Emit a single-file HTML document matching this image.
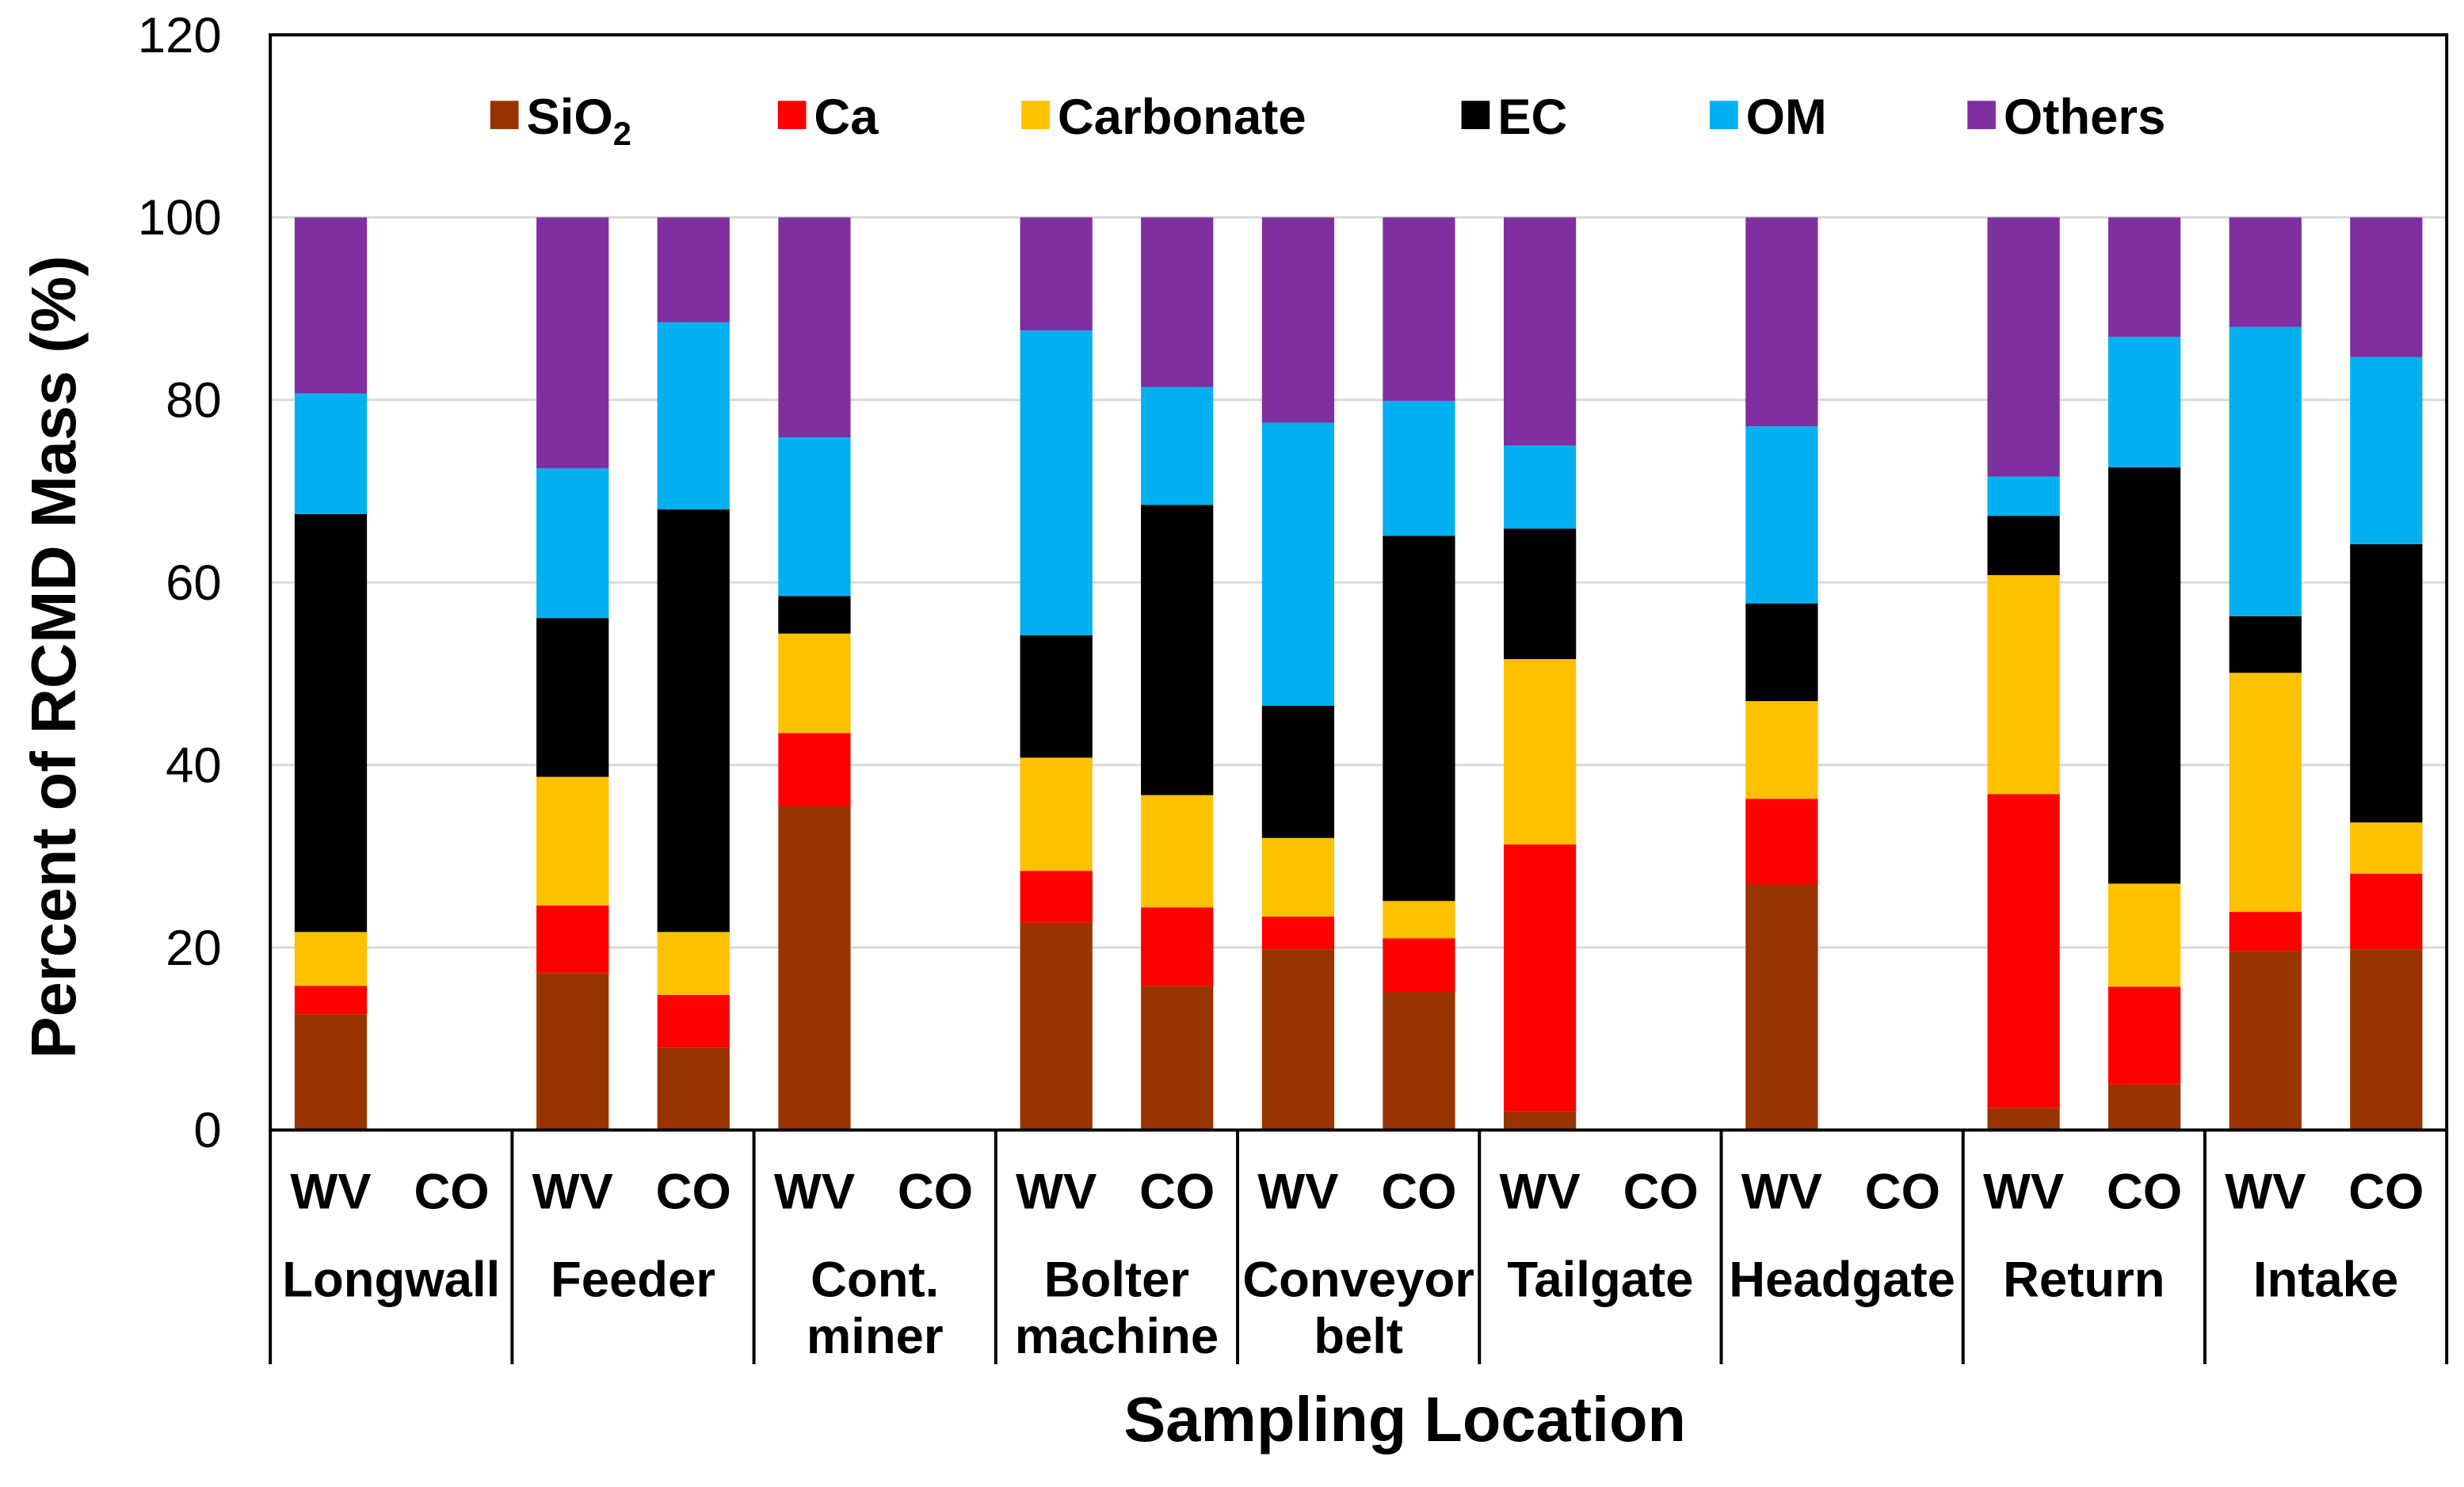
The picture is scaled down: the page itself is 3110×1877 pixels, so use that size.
<!DOCTYPE html>
<html><head><meta charset="utf-8"><style>html,body{margin:0;padding:0;background:#fff}svg{display:block}text{font-family:"Liberation Sans",Arial,sans-serif}</style></head>
<body>
<svg id="chart" width="3110" height="1877" viewBox="0 0 1568 946" xmlns="http://www.w3.org/2000/svg"></svg>
<script>
const groups = ["Longwall","Feeder","Cont.|miner","Bolter|machine","Conveyor|belt","Tailgate","Headgate","Return","Intake"];
const components = ["SiO2","Ca","Carbonate","EC","OM","Others"];
const colors = ["#993300","#ff0000","#ffc000","#000000","#00b0f0","#7f2fa0"];
const yTicks = [0,20,40,60,80,100,120];
const sio2 = [[12.7,null],[17.2,9.0],[35.5,null],[22.7,15.8],[19.8,15.1],[2.0,null],[26.9,null],[2.4,5.0],[19.6,19.8]];
const ca = [[3.1,null],[7.4,5.8],[8.0,null],[5.7,8.6],[3.6,5.9],[29.3,null],[9.4,null],[34.4,10.7],[4.3,8.3]];
const carbonate = [[5.9,null],[14.1,6.9],[10.9,null],[12.4,12.3],[8.6,4.1],[20.3,null],[10.7,null],[24.0,11.3],[26.2,5.6]];
const ec = [[45.8,null],[17.4,46.3],[4.1,null],[13.4,31.8],[14.5,40.0],[14.3,null],[10.7,null],[6.5,45.6],[6.2,30.5]];
const om = [[13.2,null],[16.4,20.5],[17.4,null],[33.4,12.9],[31.0,14.8],[9.1,null],[19.4,null],[4.3,14.3],[31.7,20.5]];
const others = [[19.3,null],[27.5,11.5],[24.1,null],[12.4,18.6],[22.5,20.1],[25.0,null],[22.9,null],[28.4,13.1],[12.0,15.3]];
const series = [sio2,ca,carbonate,ec,om,others];
const subLabels = ["WV","CO"];

const NS="http://www.w3.org/2000/svg";
const svg=document.getElementById('chart');
const L=172,R=1557,T=22,B=719,yMax=120;
const gw=(R-L)/groups.length;
const y=v=>B-(v/yMax)*(B-T);
const x=(g,s)=>L+g*gw+(s===0?38.5:115.4);
const bw=46;
function mk(tag,attrs,txt){const e=document.createElementNS(NS,tag);for(const k in attrs)e.setAttribute(k,attrs[k]);if(txt!==undefined)e.textContent=txt;svg.appendChild(e);return e;}

yTicks.forEach(t=>{
  if(t>0&&t<yMax){const g=mk('line',{x1:L,x2:R,y1:y(t),y2:y(t),stroke:'#d9d9d9','stroke-width':1.5});
  
  }
  const tl=mk('text',{x:141,y:y(t)+11,'text-anchor':'end','font-size':32},String(t));
  
  
});

for(let g=0;g<groups.length;g++){
  for(let s=0;s<2;s++){
    let cum=0;
    for(let c=0;c<series.length;c++){
      const v=series[c][g][s];
      if(v==null)continue;
      const r=mk('rect',{x:x(g,s)-bw/2,y:y(cum+v),width:bw,height:y(cum)-y(cum+v),fill:colors[c]});
      
      
      cum+=v;
    }
  }
}

const fr=mk('rect',{x:L,y:T,width:R-L,height:B-T,fill:'none',stroke:'#000','stroke-width':2});



for(let g=0;g<=groups.length;g++){
  const sx=L+g*gw;
  const ln=mk('line',{x1:sx,x2:sx,y1:B,y2:868,stroke:'#000','stroke-width':2});
  
  
}
for(let g=0;g<groups.length;g++){
  for(let s=0;s<2;s++){
    const t=mk('text',{x:x(g,s),y:769,'text-anchor':'middle','font-size':32,'font-weight':'bold'},subLabels[s]);
    
    
  }
  const parts=groups[g].split('|');
  parts.forEach((p,i)=>{
    const t=mk('text',{x:L+g*gw+gw/2,y:825+i*36,'text-anchor':'middle','font-size':32,'font-weight':'bold'},p);
    
    
  });
}

const xt=mk('text',{x:894,y:917,'text-anchor':'middle','font-size':40,'font-weight':'bold'},'Sampling Location');


const yt=mk('text',{x:0,y:0,'text-anchor':'middle','font-size':40,'font-weight':'bold',transform:'translate(48,418) rotate(-90)'},'Percent of RCMD Mass (%)');



const legX=[312,495,650,930,1088,1252];
for(let c=0;c<components.length;c++){
  const sw=mk('rect',{x:legX[c],y:64,width:18,height:18,fill:colors[c]});
  
  
  let t;
  if(c===0){
    t=mk('text',{x:legX[c]+23,y:85,'font-size':32,'font-weight':'bold'});
    t.appendChild(document.createTextNode('SiO'));
    const sub=document.createElementNS(NS,'tspan');sub.setAttribute('font-size',21);sub.setAttribute('dy',7);sub.textContent='2';t.appendChild(sub);
  } else {
    t=mk('text',{x:legX[c]+23,y:85,'font-size':32,'font-weight':'bold'},components[c]);
  }
  
  
}
</script>
</body></html>
